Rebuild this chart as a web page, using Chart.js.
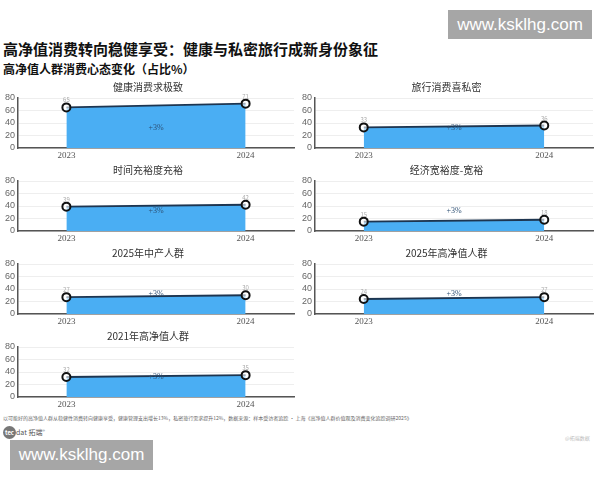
<!DOCTYPE html>
<html>
<head>
<meta charset="utf-8">
<script src="https://cdn.jsdelivr.net/npm/chart.js@4"></script>
<style>
  body { margin: 0; background: #fff; font-family: 'Noto Sans CJK SC', sans-serif; }
  #page { position: relative; width: 600px; height: 480px; overflow: hidden; background: #fff; }
  .panel { position: absolute; width: 300px; height: 84px; }
  .title { position: absolute; left: 3px; top: 38px; font-size: 15px; font-weight: bold; color: #111; white-space: nowrap; }
  .subtitle { position: absolute; left: 3px; top: 60px; font-size: 12px; font-weight: bold; color: #111; }
  .mark { position: absolute; background: #a6a6a6; color: #fff; font-family: 'Liberation Sans', sans-serif; font-size: 17px; text-align: center; line-height: 29px; }
  .note { position: absolute; left: 3px; top: 414px; font-size: 5px; color: #666; white-space: nowrap; }
  .logo { position: absolute; left: 3px; top: 426px; font-size: 7px; color: #555; }
  .logo b { display: inline-block; width: 13px; height: 13px; border-radius: 50%; background: #777; color: #fff; font-size: 6px; line-height: 13px; text-align: center; }
  .src { position: absolute; left: 565px; top: 434px; font-size: 5px; color: #bbb; }
</style>
</head>
<body>
<div id="page">
  <div class="mark" style="left:448px;top:10px;width:144px;height:29px;">www.ksklhg.com</div>
  <div class="title">高净值消费转向稳健享受：健康与私密旅行成新身份象征</div>
  <div class="subtitle">高净值人群消费心态变化（占比%）</div>
  <div class="note">以可能好的高净值人群从稳健性消费转向健康享受，健康管理支出增长13%，私密旅行需求提升12%，数据来源：样本受访者追踪 • 上海《高净值人群价值观及消费变化追踪调研2025》</div>
  <div class="logo"><b>tec</b>dat 拓端°</div>
  <div class="src">@拓端数据</div>
  <div class="mark" style="left:10px;top:440px;width:143px;height:30px;line-height:30px;">www.ksklhg.com</div>
</div>
<script>
// years on the x axis
const years = [2023, 2024];

// panel titles
const panelTitles = [
    '健康消费求极致',
    '旅行消费喜私密',
    '时间充裕度充裕',
    '经济宽裕度-宽裕',
    '2025年中产人群',
    '2025年高净值人群',
    '2021年高净值人群'
];

// share (%) for 2023 / 2024
const healthValues = [65, 71];
const travelValues = [33, 36];
const timeValues = [39, 42];
const economyValues = [15, 18];
const middle2025Values = [27, 30];
const hnw2025Values = [24, 27];
const hnw2021Values = [32, 35];

const changeLabels = ['+3%', '+3%', '+3%', '+3%', '+3%', '+3%', '+3%'];
const yTicks = [0, 20, 40, 60, 80];

const allSeries = [healthValues, travelValues, timeValues, economyValues,
    middle2025Values, hnw2025Values, hnw2021Values];

const page = document.getElementById('page');

// value labels near points + the change label in the middle
const labelPlugin = {
    id: 'labels',
    afterDatasetsDraw(chart, args, opts) {
        const ctx = chart.ctx;
        const xs = chart.scales.x;
        const ys = chart.scales.y;
        const meta = chart.getDatasetMeta(0);
        ctx.save();
        ctx.textAlign = 'center';
        ctx.font = "6px 'Noto Sans CJK SC'";
        ctx.fillStyle = '#aaa';
        meta.data.forEach((pt, i) => {
            ctx.fillText(String(opts.values[i]), pt.x, pt.y - 5);
        });
        ctx.font = "8px 'Liberation Serif'";
        ctx.fillStyle = '#2d4f73';
        ctx.textBaseline = 'middle';
        const mid = (years[0] + years[1]) / 2;
        ctx.fillText(opts.change, xs.getPixelForValue(mid), ys.getPixelForValue(32));
        ctx.restore();
    }
};

allSeries.forEach((values, i) => {
    const col = i % 2;
    const row = Math.floor(i / 2);
    const box = document.createElement('div');
    box.className = 'panel';
    box.style.left = (col * 300) + 'px';
    box.style.top = (78 + row * 83) + 'px';
    const canvas = document.createElement('canvas');
    canvas.width = 300;
    canvas.height = 84;
    box.appendChild(canvas);
    page.appendChild(box);

    new Chart(canvas, {
        type: 'line',
        data: {
            datasets: [{
                data: years.map((y, k) => ({ x: y, y: values[k] })),
                borderColor: '#1d3550',
                borderWidth: 2,
                backgroundColor: '#4aaef3',
                fill: 'origin',
                pointRadius: 4,
                pointBorderWidth: 2,
                pointBorderColor: '#111',
                pointBackgroundColor: 'rgba(255,255,255,0.6)',
                tension: 0
            }]
        },
        plugins: [labelPlugin],
        options: {
            responsive: false,
            animation: false,
            devicePixelRatio: 1,
            layout: { padding: { left: 0, right: col === 0 ? 4 : 7, top: 0, bottom: 0 } },
            plugins: {
                legend: { display: false },
                tooltip: { enabled: false },
                title: {
                    display: true,
                    text: panelTitles[i],
                    color: '#333',
                    font: { size: 10, family: "'Noto Sans CJK SC'", weight: 'normal' },
                    padding: { top: 3, bottom: 5 }
                },
                labels: { values: values, change: changeLabels[i] }
            },
            scales: {
                x: {
                    type: 'linear',
                    min: 2022.73,
                    max: 2024.27,
                    afterBuildTicks: axis => { axis.ticks = years.map(v => ({ value: v })); },
                    afterFit: axis => { axis.height = 14; },
                    ticks: {
                        callback: v => String(v),
                        color: '#555',
                        font: { size: 9, family: "'Liberation Serif'" },
                        padding: 2,
                        maxRotation: 0,
                        autoSkip: false
                    },
                    grid: { display: false, drawTicks: false },
                    border: { color: '#555', width: 1.5 }
                },
                y: {
                    min: 0,
                    max: 80,
                    afterBuildTicks: axis => { axis.ticks = yTicks.map(v => ({ value: v })); },
                    afterFit: axis => { axis.width = col === 0 ? 18 : 15; },
                    ticks: {
                        color: '#666',
                        font: { size: 9, family: "'Liberation Sans'" },
                        padding: 3,
                        autoSkip: false
                    },
                    grid: { color: '#eeeeee', drawTicks: false },
                    border: { color: '#555', width: 1.5 }
                }
            }
        }
    });
});
</script>
</body>
</html>
